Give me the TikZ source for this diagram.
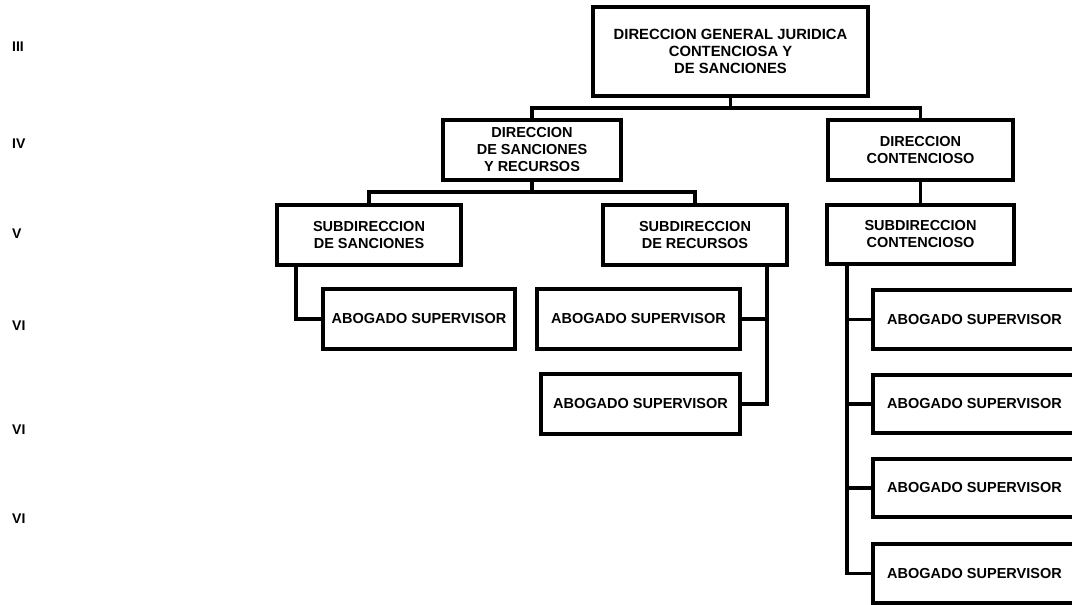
\documentclass[tikz,border=0pt]{standalone}
\usepackage{fontspec}
\setmainfont{Liberation Sans}
\begin{document}
\begin{tikzpicture}[x=1pt,y=-1pt,
  box/.style={draw,line width=3.2pt,align=center,inner sep=0pt,
    font=\fontsize{14.5}{17}\selectfont\bfseries},
  conn/.style={line width=3.2pt},
  lvl/.style={anchor=west,inner sep=0pt,font=\fontsize{14}{16}\selectfont\bfseries}]
\useasboundingbox (0,0) rectangle (1072,605);
% level labels
\node[lvl] (l3) at (12,47) {III};
\node[lvl] (l4) at (12,144) {IV};
\node[lvl] (l5) at (12,234) {V};
\node[lvl] (l6a) at (12,326) {VI};
\node[lvl] (l6b) at (12,430) {VI};
\node[lvl] (l6c) at (12,519) {VI};
% boxes
\node[box,minimum width=275pt,minimum height=89pt,font=\fontsize{14.8}{17}\selectfont\bfseries] (top) at (730.5,51.5)
  {DIRECCION GENERAL JURIDICA\\CONTENCIOSA Y\\DE SANCIONES};
\node[box,minimum width=178pt,minimum height=60pt] (dsr) at (532,150)
  {DIRECCION\\DE SANCIONES\\Y RECURSOS};
\node[box,minimum width=185pt,minimum height=60pt] (dc) at (920.5,150)
  {DIRECCION\\CONTENCIOSO};
\node[box,minimum width=184pt,minimum height=60pt] (ss) at (369,235)
  {SUBDIRECCION\\DE SANCIONES};
\node[box,minimum width=184pt,minimum height=60pt] (sr) at (695,235)
  {SUBDIRECCION\\DE RECURSOS};
\node[box,minimum width=187pt,minimum height=59pt] (sc) at (920.5,234.5)
  {SUBDIRECCION\\CONTENCIOSO};
\node[box,minimum width=192pt,minimum height=60pt] (as1) at (419,319)
  {ABOGADO SUPERVISOR};
\node[box,minimum width=203pt,minimum height=60pt] (as2) at (638.5,319)
  {ABOGADO SUPERVISOR};
\node[box,minimum width=199pt,minimum height=60pt] (as3) at (640.5,404)
  {ABOGADO SUPERVISOR};
\node[box,minimum width=203pt,minimum height=59pt] (ac1) at (974.5,319.5)
  {ABOGADO SUPERVISOR};
\node[box,minimum width=203pt,minimum height=58pt] (ac2) at (974.5,404)
  {ABOGADO SUPERVISOR};
\node[box,minimum width=203pt,minimum height=58pt] (ac3) at (974.5,488)
  {ABOGADO SUPERVISOR};
\node[box,minimum width=203pt,minimum height=59pt] (ac4) at (974.5,573.5)
  {ABOGADO SUPERVISOR};
% connectors
\coordinate (j1) at (730.5,108);
\draw[conn] (top.south) -- (j1) -| (dsr.north);
\draw[conn] (j1) -| (dc.north);
\coordinate (j2) at (532,192);
\draw[conn] (dsr.south) -- (j2) -| (ss.north);
\draw[conn] (j2) -| (sr.north);
\draw[conn] (dc.south) -- (sc.north);
\coordinate (sst) at ([xshift=-73pt]ss.south);
\draw[conn] (sst) |- (as1.west);
\coordinate (srt) at ([xshift=72pt]sr.south);
\draw[conn] (srt) |- (as3.east);
\draw[conn] (as2.east) -- (as2.east -| srt);
\coordinate (sct) at ([xshift=-73.5pt]sc.south);
\draw[conn] (sct) |- (ac4.west);
\draw[conn] (ac1.west) -- (ac1.west -| sct);
\draw[conn] (ac2.west) -- (ac2.west -| sct);
\draw[conn] (ac3.west) -- (ac3.west -| sct);
\end{tikzpicture}
\end{document}
